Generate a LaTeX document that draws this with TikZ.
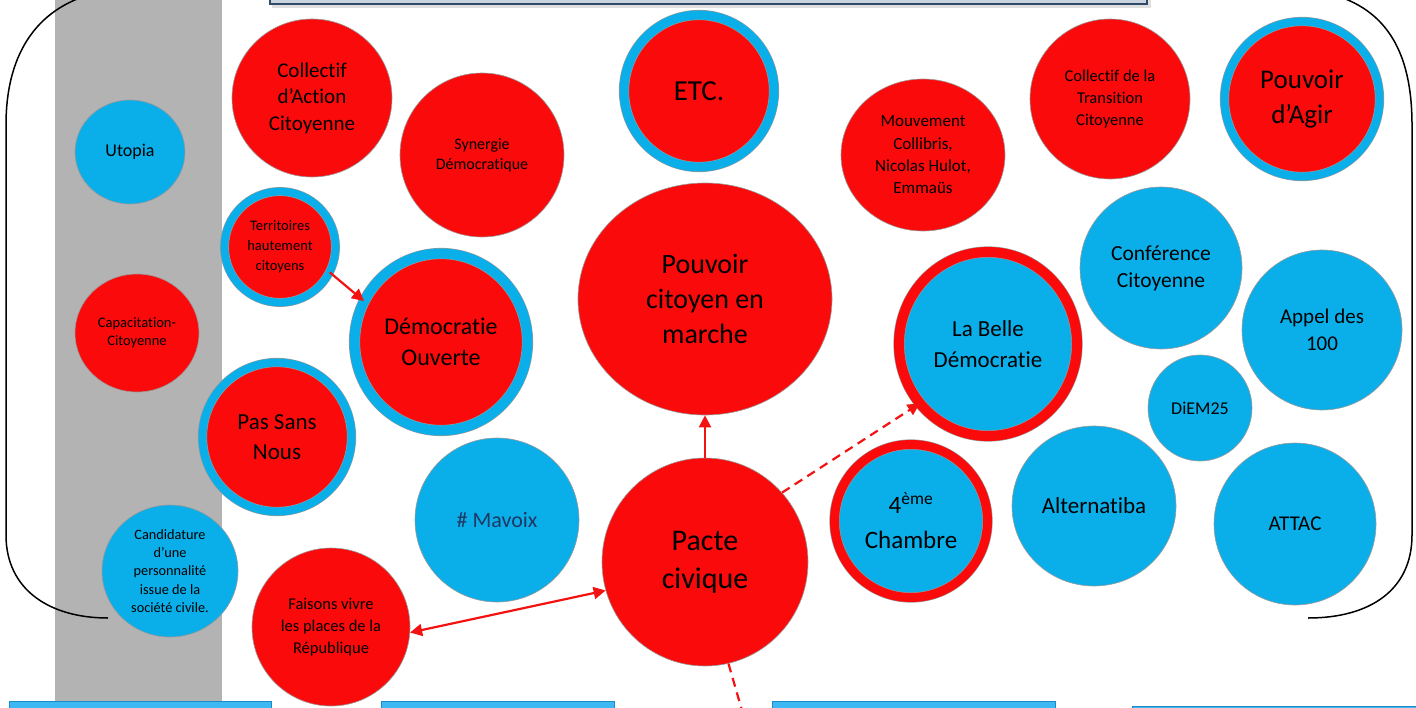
\documentclass[tikz,border=0pt]{standalone}
\usepackage{fontspec}
\setmainfont{Carlito}[Ligatures={NoCommon,NoRare}]
\usetikzlibrary{shapes.geometric,arrows.meta}
\definecolor{cred}{HTML}{FA0A0A}
\definecolor{cblue}{HTML}{0AAFEA}
\definecolor{carrow}{HTML}{F21212}
\definecolor{cgray}{HTML}{B3B3B3}
\definecolor{cnavy}{HTML}{1F3864}
\definecolor{cbar}{HTML}{3DB8F2}
\definecolor{cbaredge}{HTML}{1C8CC8}
\definecolor{ctopfill}{HTML}{C9D4E0}
\definecolor{ctopedge}{HTML}{2E4A66}
\newcommand\myfs[2]{\fontsize{#1}{#2}\selectfont}
\tikzset{
  base/.style={ellipse, inner sep=0pt, align=center, text=black, draw=black!40, line width=0.6pt},
  redc/.style={base, fill=cred},
  bluec/.style={base, fill=cblue},
  redring/.style={base, fill=cred, double=cblue, double distance=#1},
  bluering/.style={base, fill=cblue, double=cred, double distance=#1},
  wh/.style 2 args={minimum width=#1, minimum height=#2},
  arr/.style={draw=carrow, line width=2.2pt, -{Triangle[length=12pt,width=12pt]}},
  darr/.style={draw=carrow, line width=2.2pt, {Triangle[length=12pt,width=12pt]}-{Triangle[length=12pt,width=12pt]}},
  dash arr/.style={arr, dash pattern=on 9pt off 6pt},
  bracket/.style={draw=black, line width=1.5pt},
  bar/.style={fill=cbar, draw=cbaredge, line width=1pt}
}
\begin{document}
\begin{tikzpicture}[x=1pt,y=-1pt]
\useasboundingbox (0,0) rectangle (1416,707);
\clip (0,0) rectangle (1416,707);
% gray band
\fill[cgray] (55,-5) rectangle (222,702);
% top bar
\fill[black!12] (272,-20) rectangle (1151,8);
\draw[fill=ctopfill, draw=ctopedge, line width=2.5pt] (270,-20) rectangle (1147,4);
% brackets
\draw[bracket] (100,-8) .. controls (40,5) and (6,50) .. (6,125) -- (6,535) .. controls (6,590) and (50,618) .. (108,618);
\draw[bracket] (1322,-8) .. controls (1385,5) and (1412,50) .. (1412,125) -- (1412,535) .. controls (1412,590) and (1370,618) .. (1308,618);
% bottom bars
\draw[bar] (9,701) rectangle (271,730);
\draw[bar] (381,701) rectangle (614,730);
\draw[bar] (772,701) rectangle (1055,730);
\draw[bar] (1132,706) rectangle (1430,730);

% left column
\node[bluec, wh={110pt}{104pt}, font=\myfs{18}{22}] (utopia) at (130,152) {Utopia};
\node[redc, wh={124pt}{118pt}, font=\myfs{14.5}{18}] (capa) at (137,333) {Capacitation-\\Citoyenne};
\node[bluec, wh={136pt}{132pt}, font=\myfs{14.3}{18.3}] (cand) at (170,571) {Candidature\\d’une\\personnalité\\issue de la\\société civile.};

% second column
\node[redc, wh={160pt}{158pt}, font=\myfs{21}{26.5}] (cac) at (312,98) {Collectif\\d’Action\\Citoyenne};
\node[redc, wh={164pt}{164pt}, font=\myfs{16}{20}] (syn) at (482,155) {Synergie\\Démocratique};
\node[redring=7.7pt, wh={111pt}{111pt}, font=\myfs{14.5}{20}] (terr) at (280,247) {Territoires\\hautement\\citoyens};
\node[redring=10pt, wh={173pt}{177pt}, font=\myfs{24}{31}] (demo) at (441,342) {Démocratie\\Ouverte};
\node[redring=8pt, wh={149pt}{149pt}, font=\myfs{23}{30}] (pasn) at (277,437) {Pas Sans\\Nous};
\node[bluec, wh={164pt}{164pt}, font=\myfs{22}{27}, text=cnavy] (mavoix) at (497,520) {\# Mavoix};
\node[redc, wh={158pt}{158pt}, font=\myfs{16.5}{21.7}] (faisons) at (331,627) {Faisons vivre\\les places de la\\République};

% centre
\node[redring=9pt, wh={150pt}{152pt}, font=\myfs{29}{34}] (etc) at (699,91) {ETC.};
\node[redc, wh={254pt}{232pt}, font=\myfs{28}{35}] (pcm) at (705,299) {Pouvoir\\citoyen en\\marche};
\node[redc, wh={206pt}{208pt}, font=\myfs{30}{38}] (pacte) at (705,562) {Pacte\\civique};

% right part
\node[redc, wh={164pt}{152pt}, font=\myfs{17}{22.4}] (mouv) at (923,155) {Mouvement\\Collibris,\\Nicolas Hulot,\\Emmaüs};
\node[redc, wh={160pt}{160pt}, font=\myfs{16.5}{22}] (ctc) at (1110,99) {Collectif de la\\Transition\\Citoyenne};
\node[redring=8pt, wh={155pt}{155pt}, font=\myfs{27}{35}] (agir) at (1302,99) {Pouvoir\\d’Agir};
\node[bluering=10pt, wh={178pt}{184pt}, font=\myfs{23}{31}] (belle) at (988,344) {La Belle\\Démocratie};
\node[bluec, wh={162pt}{162pt}, font=\myfs{21.5}{27}] (conf) at (1161,268) {Conférence\\Citoyenne};
\node[bluec, wh={160pt}{160pt}, font=\myfs{21}{27}] (appel) at (1322,330) {Appel des\\100};
\node[bluec, wh={104pt}{106pt}, font=\myfs{18}{22}] (diem) at (1200,408) {DiEM25};
\node[bluering=9pt, wh={153pt}{153pt}, font=\myfs{25}{35}] (chambre) at (911,521) {4\textsuperscript{ème}\\Chambre};
\node[bluec, wh={164pt}{160pt}, font=\myfs{23}{28}] (alter) at (1094,506) {Alternatiba};
\node[bluec, wh={162pt}{162pt}, font=\myfs{21}{26}] (attac) at (1295,524) {ATTAC};

% connectors
\coordinate (down) at (743,714);
\draw[arr] (terr.-27) -- (demo.152);
\draw[arr] (pacte.north) -- (pcm.south);
\draw[darr] (faisons.-4) -- (pacte.196);
\draw[dash arr] (pacte.42) -- (belle.221);
\draw[draw=carrow, line width=2.2pt, dash pattern=on 9pt off 6pt] (pacte.-77) -- (down);
\end{tikzpicture}
\end{document}
